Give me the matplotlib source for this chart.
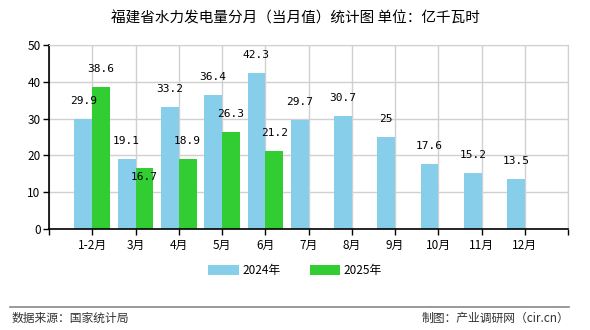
import matplotlib
matplotlib.use("Agg")
import matplotlib.pyplot as plt
import numpy as np

plt.rcParams['font.family'] = ['Noto Sans CJK SC', 'DejaVu Sans']

months = ['1-2月', '3月', '4月', '5月', '6月', '7月', '8月', '9月', '10月', '11月', '12月']
val_2024 = [29.9, 19.1, 33.2, 36.4, 42.3, 29.7, 30.7, 25, 17.6, 15.2, 13.5]
val_2025 = [38.6, 16.7, 18.9, 26.3, 21.2]

fig = plt.figure(figsize=(5.9, 3.3), dpi=100)
ax = fig.add_axes([0.083, 0.306, 0.880, 0.558])

x = np.arange(len(months))
w = 0.41
blue = '#87CEEB'
green = '#32CD32'

b1 = ax.bar(x - w / 2, val_2024, w, color=blue, label='2024年', zorder=2)
b2 = ax.bar(x[:len(val_2025)] + w / 2, val_2025, w, color=green, label='2025年', zorder=2)

lab_font = dict(family='DejaVu Sans Mono', fontsize=8, ha='center', va='center')
for i, v in enumerate(val_2024):
    ax.annotate(f'{v:g}', (x[i] - w / 2, v), xytext=(0, 13),
                textcoords='offset points', **lab_font)
for i, v in enumerate(val_2025):
    # label drops into the bar when it would collide with the 2024 label
    dy = -7 if (v < val_2024[i] and val_2024[i] - v < 4) else 13
    ax.annotate(f'{v:g}', (x[i] + w / 2, v), xytext=(0, dy),
                textcoords='offset points', **lab_font)

ax.set_xlim(-1, len(months))
ax.set_ylim(0, 50)
ax.set_yticks(range(0, 51, 10))
ax.set_xticks(np.arange(-1, len(months) + 1))
ax.set_xticklabels([''] + months + [''], fontsize=8.5)
ax.tick_params(axis='both', length=4, width=1, colors='black', labelsize=8.5)
ax.tick_params(axis='y', labelsize=8.5, pad=2)
ax.grid(True, color='#d0d0d0', linewidth=1, zorder=0)
for s in ['top', 'right']:
    ax.spines[s].set_color('#d0d0d0')
for s in ['left', 'bottom']:
    ax.spines[s].set_color('black')
    ax.spines[s].set_linewidth(1.2)

fig.text(0.5, 0.945, '福建省水力发电量分月（当月值）统计图 单位：亿千瓦时',
         ha='center', va='center', fontsize=10.5)

fig.legend(handles=[b1, b2], loc='center', bbox_to_anchor=(0.5, 0.18), ncol=2,
           frameon=False, fontsize=8.5, handlelength=2.6, handleheight=1.0,
           columnspacing=2.5, handletextpad=0.3)

fig.add_artist(plt.Line2D([0.017, 0.965], [0.07 + 0.0, 0.07 + 0.0], transform=fig.transFigure,
                          color='#888888', linewidth=1.2))
fig.text(0.02, 0.035, '数据来源：国家统计局', ha='left', va='center', fontsize=8.5, color='#333333')
fig.text(0.965, 0.035, '制图：产业调研网（cir.cn）', ha='right', va='center', fontsize=8.5, color='#333333')

fig.savefig('out.png', dpi=100)
